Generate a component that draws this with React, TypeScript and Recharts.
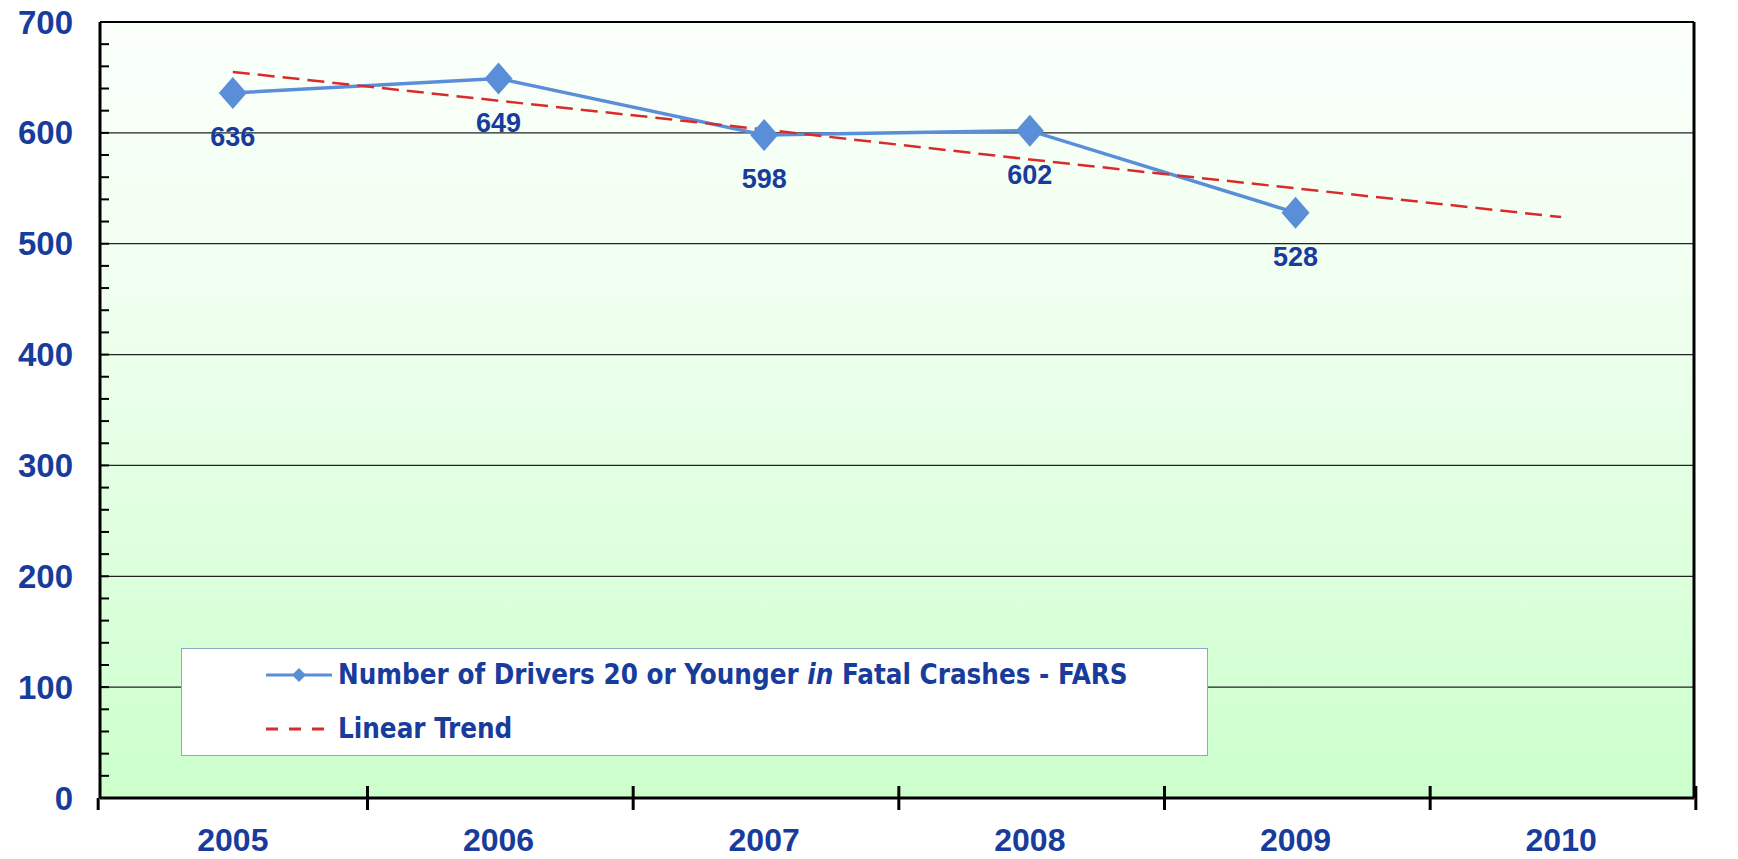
import {
  CartesianGrid,
  Legend,
  Line,
  LineChart,
  ReferenceLine,
  XAxis,
  YAxis,
} from "recharts";

const years = ["2005", "2006", "2007", "2008", "2009", "2010"];
const drivers = [636, 649, 598, 602, 528, null];
const trend = [655, 629, 603, 576, 550, 524];
const gridValues = [100, 200, 300, 400, 500, 600];
const yTicks = Array.from({ length: 36 }, (_, i) => i * 20);

const data = years.map((year, i) => ({
  year,
  drivers: drivers[i],
  trend: trend[i],
}));

const W = 1738;
const H = 859;
const LEFT = 100;
const RIGHT = 22;
const TOP = 22;
const X_AXIS_H = 61;
const BAND = (W - LEFT - RIGHT) / years.length;

const TEXT_BLUE = "#183c9c";
const LINE_BLUE = "#5a8ed8";
const TREND_RED = "#d92b2b";
const NARROW = "'Liberation Sans Narrow', 'Arial Narrow', 'DejaVu Sans Condensed', sans-serif";
const SANS = "'Liberation Sans', Arial, sans-serif";

const YTick = (props: any) => {
  const { x, y, payload } = props;
  const v = payload.value;
  return (
    <g>
      {v > 0 && v < 700 && <line x1={x} x2={x + 9} y1={y} y2={y} stroke="#000" strokeWidth={2} />}
      {v % 100 === 0 && (
        <text
          x={x - 27}
          y={y}
          textAnchor="end"
          dominantBaseline="central"
          fill={TEXT_BLUE}
          fontFamily={SANS}
          fontWeight="bold"
          fontSize={33}
        >
          {v}
        </text>
      )}
    </g>
  );
};

const XTick = (props: any) => {
  const { x, y, payload, index } = props;
  const right = x + BAND / 2;
  return (
    <g>
      {index === 0 && <line x1={x - BAND / 2} x2={x - BAND / 2} y1={y} y2={y + 12} stroke="#000" strokeWidth={3} />}
      <line x1={right} x2={right} y1={y - 12} y2={y + 12} stroke="#000" strokeWidth={3} />
      <text
        x={x}
        y={y + 42}
        textAnchor="middle"
        dominantBaseline="central"
        fill={TEXT_BLUE}
        fontFamily={SANS}
        fontWeight="bold"
        fontSize={32}
      >
        {payload.value}
      </text>
    </g>
  );
};

const Diamond = (props: any) => {
  const { cx, cy, index } = props;
  if (cx == null || cy == null) return <g key={index} />;
  return (
    <polygon
      key={index}
      points={`${cx},${cy - 16} ${cx + 14},${cy} ${cx},${cy + 16} ${cx - 14},${cy}`}
      fill={LINE_BLUE}
    />
  );
};

const ValueLabel = (props: any) => {
  const { x, y, value, index } = props;
  if (value == null) return null;
  return (
    <text
      key={index}
      x={x}
      y={y + 44}
      textAnchor="middle"
      dominantBaseline="central"
      fill={TEXT_BLUE}
      fontFamily={SANS}
      fontWeight="bold"
      fontSize={27}
    >
      {value}
    </text>
  );
};

const LegendBox = () => (
  <div
    style={{
      position: "relative",
      width: 1027,
      height: 108,
      boxSizing: "border-box",
      background: "#fff",
      border: "1.5px solid #8fa6c4",
      fontFamily: NARROW,
      fontWeight: "bold",
      fontSize: 27.5,
      color: TEXT_BLUE,
      lineHeight: 1,
    }}
  >
    <div style={{ position: "absolute", left: 84, top: 12, display: "flex", alignItems: "center" }}>
      <svg width={66} height={20} style={{ marginRight: 6 }}>
        <line x1={0} x2={66} y1={10} y2={10} stroke={LINE_BLUE} strokeWidth={3} />
        <polygon points="33,3 40,10 33,17 26,10" fill={LINE_BLUE} />
      </svg>
      <span>
        Number of Drivers 20 or Younger <span style={{ fontStyle: "italic" }}>in</span> Fatal Crashes - FARS
      </span>
    </div>
    <div style={{ position: "absolute", left: 84, top: 66, display: "flex", alignItems: "center" }}>
      <svg width={66} height={20} style={{ marginRight: 6 }}>
        <line x1={0} x2={64} y1={10} y2={10} stroke={TREND_RED} strokeWidth={3} strokeDasharray="12 11" />
      </svg>
      <span>Linear Trend</span>
    </div>
  </div>
);

export default function App() {
  return (
    <div style={{ position: "absolute", left: 0, top: 0, background: "#fff" }}>
      <LineChart
        width={W}
        height={H}
        data={data}
        margin={{ top: TOP, right: RIGHT, bottom: 0, left: 0 }}
      >
        <defs>
          <linearGradient id="plotBg" x1="0" y1="0" x2="0" y2="1">
            <stop offset="0%" stopColor="#fbfffb" />
            <stop offset="35%" stopColor="#f0fff0" />
            <stop offset="100%" stopColor="#ccffcc" />
          </linearGradient>
        </defs>
        <CartesianGrid
          vertical={false}
          horizontalValues={gridValues}
          stroke="#222"
          strokeWidth={1.2}
          fill="url(#plotBg)"
          fillOpacity={1}
          yAxisId="l"
        />
        <XAxis
          dataKey="year"
          scale="band"
          height={X_AXIS_H}
          axisLine={{ stroke: "#000", strokeWidth: 3 }}
          tickLine={false}
          tickSize={0}
          tickMargin={0}
          tick={<XTick />}
          interval={0}
        />
        <YAxis
          yAxisId="l"
          width={LEFT}
          domain={[0, 700]}
          ticks={yTicks}
          interval={0}
          axisLine={{ stroke: "#000", strokeWidth: 3 }}
          tickLine={false}
          tickSize={0}
          tickMargin={0}
          tick={<YTick />}
        />
        <YAxis
          yAxisId="r"
          orientation="right"
          width={RIGHT}
          domain={[0, 700]}
          tick={false}
          tickLine={false}
          axisLine={{ stroke: "#000", strokeWidth: 3 }}
        />
        <ReferenceLine yAxisId="l" y={700} stroke="#000" strokeWidth={2} />
        <Line
          yAxisId="l"
          dataKey="drivers"
          stroke={LINE_BLUE}
          strokeWidth={3.5}
          dot={<Diamond />}
          activeDot={false}
          label={<ValueLabel />}
          isAnimationActive={false}
        />
        <Line
          yAxisId="l"
          dataKey="trend"
          stroke={TREND_RED}
          strokeWidth={2.5}
          strokeDasharray="17 8"
          dot={false}
          activeDot={false}
          isAnimationActive={false}
        />
        <Legend
          layout="horizontal"
          verticalAlign="middle"
          align="center"
          content={<LegendBox />}
          wrapperStyle={{ left: 181, top: 648, width: 1027, height: 108 }}
        />
      </LineChart>
    </div>
  );
}
